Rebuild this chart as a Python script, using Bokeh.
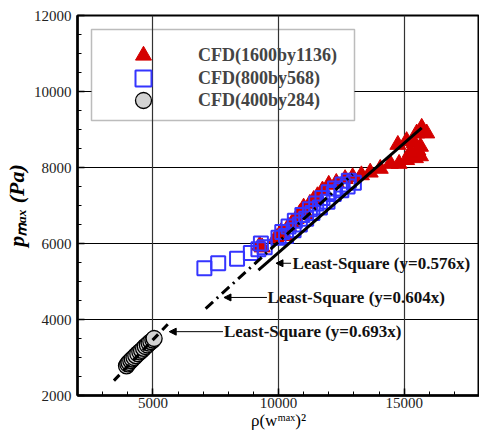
from bokeh.plotting import figure
from bokeh.models import (Range1d, SingleIntervalTicker, Legend, LegendItem, Label,
                          Arrow, NormalHead, BoxAnnotation)
from bokeh.embed import file_html
from bokeh.resources import INLINE

SERIF = "Liberation Serif"

# ---- data ----
red_x = [9250, 9350, 9900, 10100, 10250, 10400, 10550, 10700, 10850, 11000, 11100, 11250,
         11400, 11550, 11750, 12000, 12300, 12650, 12950, 13300, 13650, 14050, 14450, 14800,
         15100, 15450, 15650, 14750, 15100, 15400, 15550, 15250, 15500, 15700, 15900, 15650]
red_y = [5950, 5900, 6150, 6300, 6200, 6450, 6550, 6650, 6800, 6950, 6750, 7050,
         7150, 7250, 7400, 7550, 7600, 7700, 7750, 7800, 7870, 7970, 8100, 8100,
         8200, 8250, 8300, 8600, 8700, 8650, 8450, 8400, 8900, 9050, 8900, 8550]

blue_x = [7050, 7600, 8350, 8900, 9200, 9300, 9450, 10000, 10150, 10300, 10400, 10600,
          10650, 10850, 10950, 11100, 11250, 11350, 11500, 11650, 11750, 11950, 12000,
          12200, 12250, 12500, 12550, 12750, 12800, 13000]
blue_y = [5350, 5480, 5600, 5750, 5850, 6000, 5900, 6150, 6300, 6200, 6450, 6350,
          6600, 6500, 6750, 6650, 6900, 6800, 7050, 6950, 7200, 7100, 7350,
          7300, 7450, 7400, 7550, 7500, 7650, 7600]

gray_x = [3950, 4000, 4050, 4120, 4180, 4250, 4320, 4400, 4480, 4550, 4630, 4700,
          4780, 4850, 4920, 5000, 5050]
gray_y = [2780, 2830, 2870, 2920, 2960, 3000, 3050, 3100, 3150, 3190, 3240, 3290,
          3330, 3380, 3420, 3460, 3500]

series_labels = ["CFD(1600by1136)", "CFD(800by568)", "CFD(400by284)"]

fit_slopes = [0.576, 0.604, 0.693]
fit_x_ranges = [[9200, 15700], [7100, 12950], [3450, 5650]]
fit_labels = ["Least-Square (y=0.576x)", "Least-Square (y=0.604x)", "Least-Square (y=0.693x)"]
# arrow (start x, end x, y) and label anchor, data units
fit_arrows = [(10500, 9900, 5480), (9540, 7830, 4580), (7790, 5650, 3680)]
fit_text_x = [10560, 9560, 7830]

x_label = "ρ(wᵐᵃˣ)²"
y_label = "pₘₐₓ (Pa)"

x_ticks_interval = 5000
y_ticks_interval = 2000

# ---- figure ----
p = figure(width=479, height=434, output_backend="svg", toolbar_location=None,
           x_range=Range1d(2000, 18000), y_range=Range1d(2000, 12000),
           min_border_left=76, min_border_right=0, min_border_top=15, min_border_bottom=39,
           background_fill_color="white", border_fill_color="white")

p.outline_line_color = "black"
p.outline_line_width = 2

xt = SingleIntervalTicker(interval=x_ticks_interval, num_minor_ticks=5)
yt = SingleIntervalTicker(interval=y_ticks_interval, num_minor_ticks=4)
p.xaxis.ticker = xt
p.yaxis.ticker = yt
p.xgrid.ticker = xt
p.ygrid.ticker = yt

for ax in (p.xaxis[0], p.yaxis[0]):
    ax.axis_line_width = 2.5
    ax.axis_line_color = "black"
    ax.major_tick_in = 7
    ax.major_tick_out = 0
    ax.minor_tick_in = 4
    ax.minor_tick_out = 0
    ax.major_tick_line_width = 1.5
    ax.major_tick_line_color = "black"
    ax.minor_tick_line_color = "black"
    ax.major_label_text_font = SERIF
    ax.major_label_text_font_size = "15px"
    ax.major_label_text_color = "#222222"
    ax.axis_label_text_font = SERIF
    ax.axis_label_text_color = "black"
p.xaxis.major_label_standoff = 2
p.yaxis.major_label_standoff = 6

p.xaxis.axis_label = x_label
p.xaxis.axis_label_text_font_size = "17px"
p.xaxis.axis_label_text_font_style = "normal"
p.xaxis.axis_label_standoff = 0
p.yaxis.axis_label = y_label
p.yaxis.axis_label_text_font_size = "22px"
p.yaxis.axis_label_text_font_style = "bold italic"
p.yaxis.axis_label_standoff = 2

p.xgrid.grid_line_color = "#333333"
p.ygrid.grid_line_color = "black"
p.xgrid.grid_line_width = 1.2
p.ygrid.grid_line_width = 1

# legend frame: covers horizontal grid lines but not vertical ones
box = BoxAnnotation(left=14, right=277, top=366, bottom=275,
                    left_units="screen", right_units="screen",
                    top_units="screen", bottom_units="screen",
                    fill_color="white", fill_alpha=1, line_color="#222222",
                    line_width=1.5, level="underlay")
xg = p.xgrid[0]
yg = p.ygrid[0]
others = [r for r in p.center if r is not xg and r is not yg]
p.center = [yg, box, xg] + others

# ---- data marks ----
r_red = p.scatter(red_x, red_y, marker="triangle", size=16,
                  fill_color="#d40000", line_color="#d40000")
r_blue = p.scatter(blue_x, blue_y, marker="square", size=14,
                   fill_color=None, line_color="#3535ff", line_width=2)
r_gray = p.scatter(gray_x, gray_y, marker="circle", size=16,
                   fill_color="#d3d3d3", line_color="black", line_width=1.3)

dashes = ["solid", "10 5 2 5", "8 6"]
for s, xr, d in zip(fit_slopes, fit_x_ranges, dashes):
    p.line(xr, [s * v for v in xr], line_color="black", line_width=3, line_dash=d)

for (xs, xe, yy), tx, txt in zip(fit_arrows, fit_text_x, fit_labels):
    p.add_layout(Arrow(end=NormalHead(size=7, fill_color="black", line_color="black"),
                       x_start=xs, y_start=yy, x_end=xe, y_end=yy,
                       line_color="black", line_width=1))
    p.add_layout(Label(x=tx, y=yy, text=txt, text_font=SERIF, text_font_style="bold",
                       text_font_size="17px", text_baseline="middle", text_color="#111111"))

# one legend per entry so that rows sit closer than the glyph box height
legend_rows_y = [320, 297, 275]
for lbl, rr, ly in zip(series_labels, [r_red, r_blue, r_gray], legend_rows_y):
    lg = Legend(items=[LegendItem(label=lbl, renderers=[rr])],
                location=(46, ly), glyph_width=40, glyph_height=40, label_height=40,
                padding=0, margin=0, label_standoff=35,
                label_text_font=SERIF, label_text_font_style="bold",
                label_text_font_size="18px", border_line_alpha=0,
                background_fill_alpha=0)
    p.add_layout(lg)

open("out.html", "w").write(file_html(p, INLINE))
